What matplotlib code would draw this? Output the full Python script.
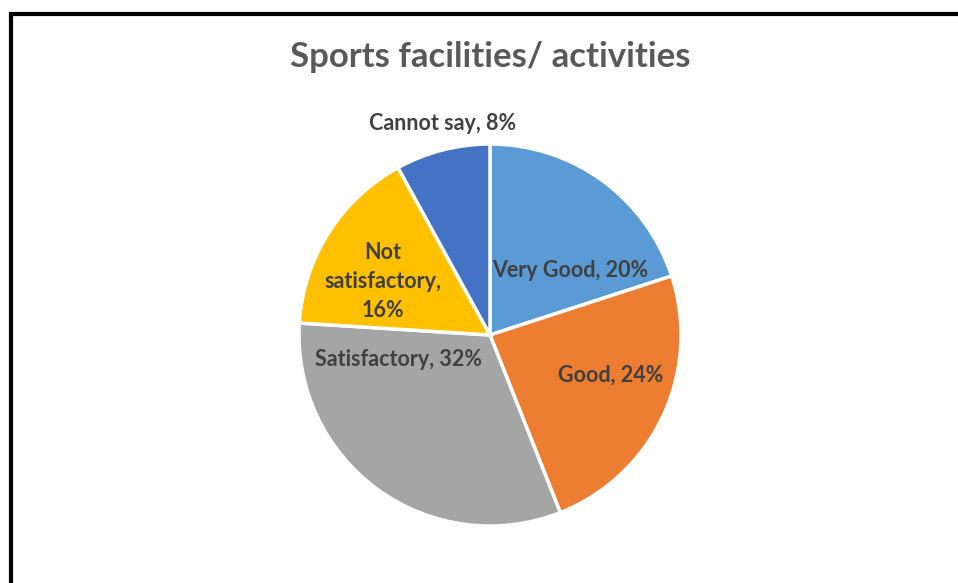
import matplotlib.pyplot as plt
from matplotlib.patches import Rectangle

# Data
categories = ["Very Good", "Good", "Satisfactory", "Not\nsatisfactory", "Cannot say"]
shares = [20, 24, 32, 16, 8]
colors = ["#5B9BD5", "#ED7D31", "#A5A5A5", "#FFC000", "#4472C4"]
title = "Sports facilities/ activities"

# label positions in pie units (centre 0,0, radius 1)
label_pos = [(0.42, 0.34), (0.63, -0.21), (-0.48, -0.13), (-0.56, 0.28), (-0.25, 1.105)]

plt.rcParams['font.family'] = ['Lato', 'DejaVu Sans']

W, H = 958, 583
fig = plt.figure(figsize=(W / 100, H / 100), dpi=100)

# pie centre and radius in pixels
cx, cy, r = 490, 335, 191
ax = fig.add_axes([(cx - r) / W, (H - cy - r) / H, 2 * r / W, 2 * r / H])
ax.pie(shares, colors=colors, startangle=90, counterclock=False, radius=1,
       wedgeprops=dict(edgecolor="white", linewidth=2.5))
ax.set_xlim(-1, 1)
ax.set_ylim(-1, 1)
ax.set_aspect("equal")
ax.axis("off")

for name, val, (x, y) in zip(categories, shares, label_pos):
    if "\n" in name:
        txt = f"{name},\n{val}%"
    else:
        txt = f"{name}, {val}%"
    ax.text(x, y, txt, ha="center", va="center", fontsize=15.5, fontweight="bold",
            color="#404040", linespacing=1.45, clip_on=False)

fig.text(490 / W, 1 - 57 / H, title, ha="center", va="center", fontsize=25,
         fontweight="bold", color="#595959")

# chart frame (cut off at right and bottom)
fig.patches.append(Rectangle((11 / W, -0.1), 1.2, 1 - 14 / H + 0.1, transform=fig.transFigure,
                             fill=False, edgecolor="black", linewidth=3, zorder=10))

fig.savefig("out.png", dpi=100, facecolor="white")
